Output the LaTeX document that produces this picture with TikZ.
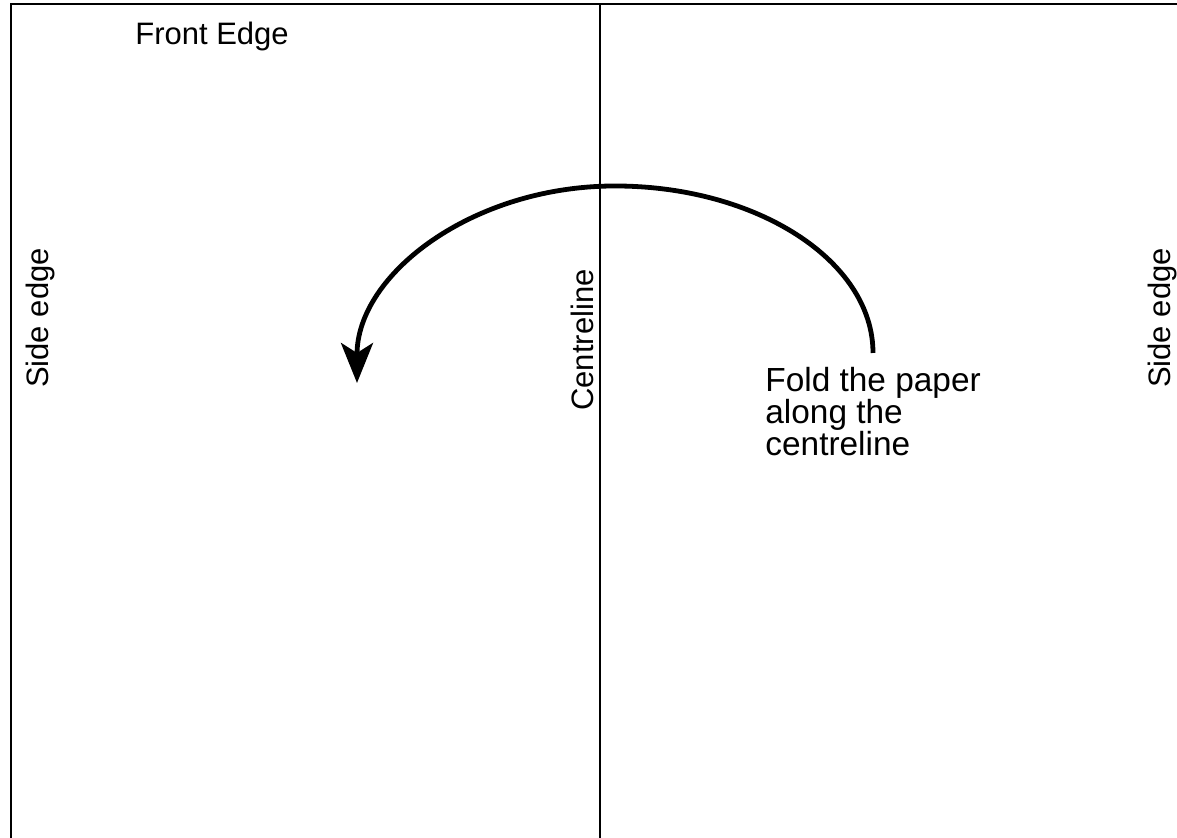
\documentclass[tikz,border=0pt]{standalone}
\usepackage{fontspec}
\setmainfont{Liberation Sans}
\usetikzlibrary{arrows.meta}

\begin{document}
\begin{tikzpicture}[
  x=0.5pt, y=0.5pt,
  % Line and text styles
  paperline/.style={draw=black, line width=0.8pt},
  edgelabel/.style={font=\fontsize{15.5}{17}\selectfont, inner sep=0pt},
  sidelabel/.style={edgelabel, rotate=90},
  notelabel/.style={inner sep=0pt, font=\fontsize{16.7}{16}\selectfont,
    align=left, anchor=north west},
  foldarrow/.style={draw=black, line width=2.4pt,
    -{Stealth[length=20pt, width=16pt, inset=5pt]}},
]

% === Frame of the picture ===
\useasboundingbox (0,0) rectangle (1177,838);

% === Paper outline and centreline ===
\coordinate (lowleft) at (11,0);
\coordinate (topleft) at (11,834);
\coordinate (topright) at (1177,834);
\coordinate (ctop) at (600,834);
\coordinate (cbottom) at (600,0);
\draw[paperline] (lowleft) -- (topleft) -- (topright);
\draw[paperline] (ctop) -- (cbottom);

% === Labels ===
\node[edgelabel] (front) at (212,801) {Front Edge};
\node[sidelabel] (sideL) at (40,520) {Side edge};
\node[sidelabel] (centre) at (582,498) {Centreline};
\node[sidelabel] (sideR) at (1162,520) {Side edge};
\node[notelabel] (note) at (765,471) {Fold the paper\\along the\\centreline};

% === Fold arrow ===
\coordinate (foldstart) at (873,485);
\coordinate (foldtop) at (615,652);
\coordinate (foldend) at (357,455);
\draw[foldarrow] (foldstart) .. controls +(0,92) and +(142,0) .. (foldtop)
  .. controls +(-142,0) and +(0,109) .. (foldend);

\end{tikzpicture}
\end{document}
